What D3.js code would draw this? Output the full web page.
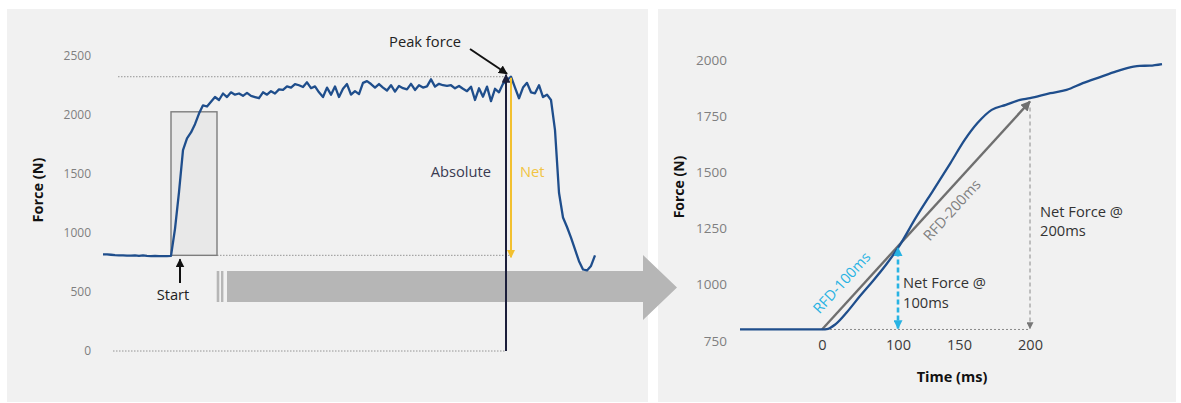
<!DOCTYPE html>
<html><head><meta charset="utf-8">
<script src="https://cdn.jsdelivr.net/npm/d3@7"></script>
<style>
body{margin:0;background:#fff;}
svg{display:block;font-family:"Open Sans",sans-serif;}
</style></head><body>
<svg id="chart" width="1181" height="403"></svg>
<script>
// ---- Full isometric trial: force trace, one value per sample ----
const trialForce = [
  818, 818, 815, 812, 810, 810, 808, 808, 810, 806, 810, 806, 804, 806, 804, 804, 804, 805,
  1034, 1345, 1700, 1800, 1850, 1920, 2010, 2080, 2070, 2110, 2150, 2125,
  2180, 2150, 2190, 2170, 2180, 2160, 2185, 2160, 2150, 2140, 2190, 2170, 2200, 2180,
  2215, 2210, 2240, 2230, 2260, 2250, 2235, 2275, 2225, 2240, 2190, 2150, 2230, 2170,
  2240, 2150, 2220, 2260, 2170, 2200, 2175, 2270, 2285, 2260, 2230, 2260, 2230, 2205,
  2250, 2196, 2244, 2225, 2215, 2262, 2210, 2250, 2230, 2240, 2300, 2238, 2262, 2250,
  2244, 2250, 2224, 2244, 2220, 2200, 2238, 2125, 2224, 2153, 2238, 2115, 2220, 2190,
  2262, 2294, 2322, 2230, 2140, 2230, 2270, 2190, 2182, 2250, 2150, 2170, 2125,
  1870, 1340, 1130, 1050, 960, 860, 760, 690, 682, 720, 810
];
const trialTicks = [0, 500, 1000, 1500, 2000, 2500];
const onsetSample = 17;          // first sample of the rise
const zoomEndSample = 28.5;      // right edge of the highlighted window
const zoomTopForce = 2025;
const baselineForce = 810;

// ---- Early rise, time relative to onset ----
const riseTime  = [-80, -40, 0, 8, 18, 33, 50, 67, 84, 100, 115, 129, 143, 154, 163, 173, 183, 193, 200,
                   220, 236, 252, 269, 285, 302, 308, 318, 330];
const riseForce = [800, 800, 800, 803, 824, 878, 949, 1016, 1087, 1163, 1301, 1421, 1541, 1644, 1719, 1778, 1800, 1822, 1830,
                   1852, 1867, 1897, 1924, 1949, 1971, 1974, 1975, 1982];
const riseYTicks = [750, 1000, 1250, 1500, 1750, 2000];
const riseXTicks = [0, 100, 150, 200];
const riseBase = 800;
const net100 = 1163;
const net200 = 1815;

const svg = d3.select("#chart");
const defs = svg.append("defs");
function marker(id, color, size) {
  defs.append("marker").attr("id", id)
    .attr("viewBox", "0 0 10 10").attr("refX", 9).attr("refY", 5)
    .attr("markerWidth", size).attr("markerHeight", size)
    .attr("markerUnits", "userSpaceOnUse").attr("orient", "auto-start-reverse")
    .append("path").attr("d", "M0,0 L10,5 L0,10 z").attr("fill", color);
}
marker("mBlack", "#111", 9);
marker("mNavy", "#1c1f3b", 9);
marker("mYellow", "#f2c02f", 8);
marker("mGray", "#6f6f6f", 10);
marker("mGrayS", "#777", 7);
marker("mCyan", "#28b3e3", 9);

const FONT = "'Open Sans', sans-serif";
const blue = "#1f4e8c";
const fmt = d3.format("d");

// panels
svg.append("rect").attr("x", 7).attr("y", 9).attr("width", 641).attr("height", 393).attr("fill", "#f1f1f1");
svg.append("rect").attr("x", 658).attr("y", 9).attr("width", 518).attr("height", 393).attr("fill", "#f1f1f1");

// ================= left: whole trial =================
const xL = d3.scaleLinear().domain([0, trialForce.length - 1]).range([103, 595]);
const yL = d3.scaleLinear().domain([0, 2500]).range([351, 55.7]);

const peakForce = d3.max(trialForce);
const peakIdx = trialForce.indexOf(peakForce);
const peakX = xL(peakIdx);
const absX = peakX - 5;

// connecting arrow between the two panels
const arrowG = svg.append("g").attr("fill", "#b6b6b6");
arrowG.append("rect").attr("x", 216.7).attr("y", 271).attr("width", 2.6).attr("height", 31);
arrowG.append("rect").attr("x", 221).attr("y", 271).attr("width", 2.4).attr("height", 31);
arrowG.append("path").attr("d", "M227,271 H643 V255 L677,287.5 L643,320 V302 H227 Z");

// y axis
const gyL = svg.append("g").attr("transform", "translate(91,0)")
  .call(d3.axisLeft(yL).tickValues(trialTicks).tickFormat(fmt).tickSize(0).tickPadding(0));
gyL.select(".domain").remove();
gyL.attr("font-family", FONT).attr("font-size", 12);
gyL.selectAll("text").attr("fill", "#7f7f7f");
svg.append("text").attr("transform", "translate(38,190) rotate(-90)")
  .attr("text-anchor", "middle").attr("dy", "0.35em")
  .attr("font-weight", 700).attr("font-size", 14.5).attr("fill", "#111").text("Force (N)");

// reference dotted lines
const dotted = (x1, x2, y) => svg.append("line").attr("x1", x1).attr("x2", x2).attr("y1", y).attr("y2", y)
  .attr("stroke", "#8a8a8a").attr("stroke-width", 0.9).attr("stroke-dasharray", "1.5,1.5");
dotted(118, absX, yL(peakForce));
dotted(xL(zoomEndSample), peakX + 1, yL(baselineForce));
dotted(113, absX, yL(0));

// highlighted rise window
svg.append("rect")
  .attr("x", xL(onsetSample)).attr("y", yL(zoomTopForce))
  .attr("width", xL(zoomEndSample) - xL(onsetSample)).attr("height", yL(baselineForce) - yL(zoomTopForce))
  .attr("fill", "#e8e8e8").attr("stroke", "#7d7d7d").attr("stroke-width", 1.4);

// force trace
svg.append("path").datum(trialForce)
  .attr("d", d3.line().x((d, i) => xL(i)).y(d => yL(d)))
  .attr("fill", "none").attr("stroke", blue).attr("stroke-width", 2.3).attr("stroke-linejoin", "round");

// absolute & net arrows
svg.append("line").attr("x1", absX).attr("x2", absX).attr("y1", yL(0)).attr("y2", yL(peakForce) - 2)
  .attr("stroke", "#1c1f3b").attr("stroke-width", 2).attr("marker-end", "url(#mNavy)");
svg.append("line").attr("x1", peakX).attr("x2", peakX).attr("y1", yL(peakForce) + 1).attr("y2", yL(baselineForce) + 2)
  .attr("stroke", "#f2c02f").attr("stroke-width", 2).attr("marker-end", "url(#mYellow)");
svg.append("text").attr("x", 491).attr("y", 171.7).attr("dy", "0.35em").attr("text-anchor", "end")
  .attr("font-size", 14.7).attr("fill", "#3a3b52").text("Absolute");
svg.append("text").attr("x", 520).attr("y", 171.7).attr("dy", "0.35em")
  .attr("font-size", 14.7).attr("fill", "#f2c443").text("Net");

// peak force callout
svg.append("text").attr("x", 425).attr("y", 41.7).attr("dy", "0.35em").attr("text-anchor", "middle")
  .attr("font-size", 14.7).attr("fill", "#222").text("Peak force");
svg.append("line").attr("x1", 470).attr("y1", 49).attr("x2", peakX - 4).attr("y2", yL(peakForce) - 3)
  .attr("stroke", "#111").attr("stroke-width", 2).attr("marker-end", "url(#mBlack)");

// start callout
const startX = xL(onsetSample) + 9;
svg.append("line").attr("x1", startX).attr("x2", startX).attr("y1", 283).attr("y2", yL(baselineForce) + 4)
  .attr("stroke", "#111").attr("stroke-width", 2).attr("marker-end", "url(#mBlack)");
svg.append("text").attr("x", startX - 7).attr("y", 294.5).attr("dy", "0.35em").attr("text-anchor", "middle")
  .attr("font-size", 14.7).attr("fill", "#222").text("Start");

// ================= right: early rise =================
const xR = d3.scaleLinear().domain([-80, 0, 100, 150, 200, 330]).range([740, 822, 898, 959, 1030, 1162]);
const yR = d3.scaleLinear().domain([750, 2000]).range([340.7, 60]);

const gyR = svg.append("g").attr("transform", "translate(727,0)")
  .call(d3.axisLeft(yR).tickValues(riseYTicks).tickFormat(fmt).tickSize(0).tickPadding(0));
gyR.select(".domain").remove();
gyR.attr("font-family", FONT).attr("font-size", 13.5);
gyR.selectAll("text").attr("fill", "#7f7f7f");

const gxR = svg.append("g").attr("transform", "translate(0,340)")
  .call(d3.axisBottom(xR).tickValues(riseXTicks).tickSize(0).tickPadding(0).tickFormat(fmt));
gxR.select(".domain").remove();
gxR.attr("font-family", FONT).attr("font-size", 14.5);
gxR.selectAll("text").attr("fill", "#3a3a3a");

svg.append("text").attr("transform", "translate(679,187) rotate(-90)")
  .attr("text-anchor", "middle").attr("dy", "0.35em")
  .attr("font-weight", 700).attr("font-size", 14).attr("fill", "#111").text("Force (N)");
svg.append("text").attr("x", 952).attr("y", 377).attr("dy", "0.35em").attr("text-anchor", "middle")
  .attr("font-weight", 700).attr("font-size", 14.5).attr("fill", "#111").text("Time (ms)");

// baseline at onset
svg.append("line").attr("x1", xR(0)).attr("x2", xR(200)).attr("y1", yR(riseBase)).attr("y2", yR(riseBase))
  .attr("stroke", "#8a8a8a").attr("stroke-width", 1).attr("stroke-dasharray", "2,2");

// net force at 200 ms
svg.append("line").attr("x1", xR(200)).attr("x2", xR(200)).attr("y1", yR(net200) + 6).attr("y2", yR(riseBase) - 1)
  .attr("stroke", "#9c9c9c").attr("stroke-width", 1.2).attr("stroke-dasharray", "4,3")
  .attr("marker-end", "url(#mGrayS)");

// RFD 0-200 ms
svg.append("line").attr("x1", xR(0)).attr("y1", yR(riseBase)).attr("x2", xR(200)).attr("y2", yR(net200))
  .attr("stroke", "#6f6f6f").attr("stroke-width", 2.4).attr("marker-end", "url(#mGray)");

// rise curve
svg.append("path").datum(riseTime.map((t, i) => [t, riseForce[i]]))
  .attr("d", d3.line().x(d => xR(d[0])).y(d => yR(d[1])).curve(d3.curveMonotoneX))
  .attr("fill", "none").attr("stroke", blue).attr("stroke-width", 2.3).attr("stroke-linejoin", "round");

// net force at 100 ms
svg.append("line").attr("x1", xR(100)).attr("x2", xR(100)).attr("y1", yR(riseBase) - 1).attr("y2", yR(net100))
  .attr("stroke", "#28b3e3").attr("stroke-width", 2.6).attr("stroke-dasharray", "5,3")
  .attr("marker-start", "url(#mCyan)").attr("marker-end", "url(#mCyan)");

// slope labels
const ang = Math.atan2(yR(riseBase) - yR(net200), xR(200) - xR(0)) * 180 / Math.PI;
svg.append("text").attr("transform", `translate(841.7,282.7) rotate(${-ang})`)
  .attr("text-anchor", "middle").attr("dy", "0.35em")
  .attr("font-size", 14.5).attr("fill", "#28b3e3").text("RFD-100ms");
svg.append("text").attr("transform", `translate(952,210) rotate(${-ang})`)
  .attr("text-anchor", "middle").attr("dy", "0.35em")
  .attr("font-size", 14.5).attr("fill", "#7f7f7f").text("RFD-200ms");

// net force captions
const cap = (x, y, lines) => lines.forEach((s, k) =>
  svg.append("text").attr("x", x).attr("y", y + k * 19.5).attr("dy", "0.35em")
    .attr("font-size", 14.7).attr("fill", "#333").text(s));
cap(xR(100) + 5, 283.3, ["Net Force @", "100ms"]);
cap(xR(200) + 10, 211.7, ["Net Force @", "200ms"]);
</script>
</body></html>
